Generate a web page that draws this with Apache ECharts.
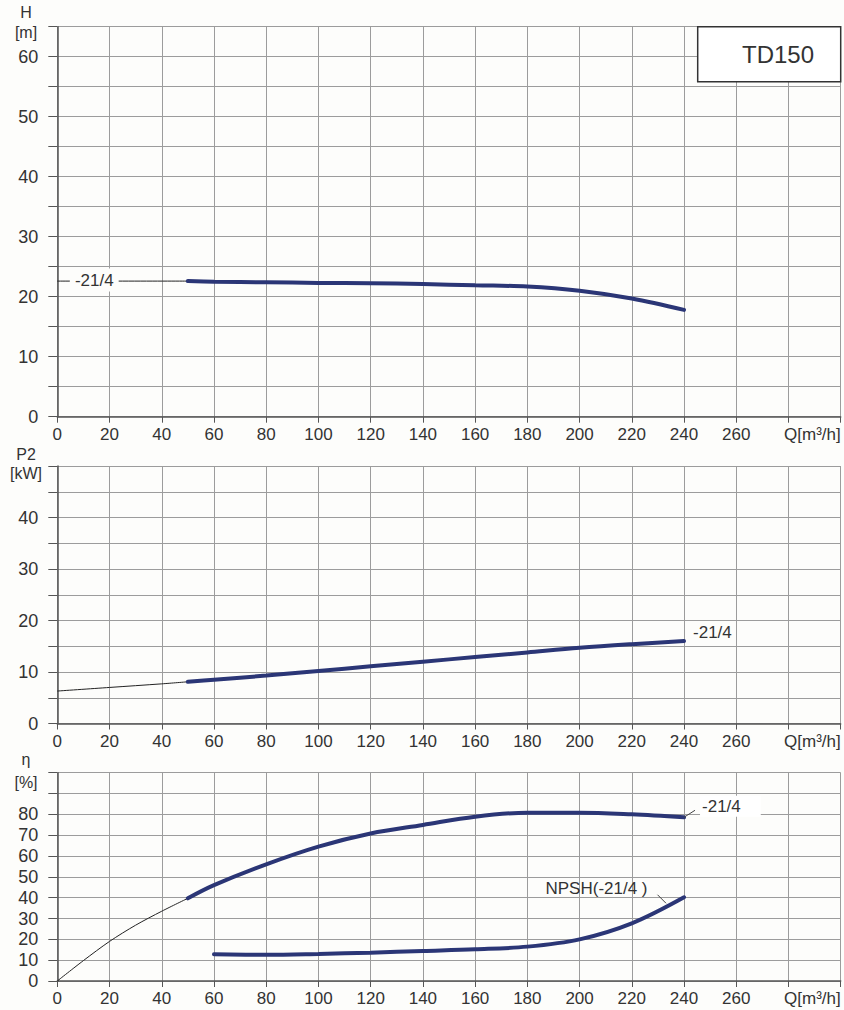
<!DOCTYPE html>
<html><head><meta charset="utf-8">
<script src="https://cdn.jsdelivr.net/npm/echarts@6/dist/echarts.min.js"></script>
<style>html,body{margin:0;padding:0;background:#fdfdfb}#c{width:844px;height:1010px}</style>
</head><body><div id="c"></div>
<script>
// ---------- data ----------
const Q_H = [50, 60, 80, 100, 120, 140, 160, 180, 200, 220, 240];
const H_VAL = [22.6, 22.5, 22.4, 22.3, 22.25, 22.1, 21.9, 21.7, 21.0, 19.7, 17.8];
const Q_H_EXT = [0, 50];
const H_EXT = [22.6, 22.6];

const Q_P = [50, 60, 80, 100, 120, 140, 160, 180, 200, 220, 240];
const P_VAL = [8.1, 8.5, 9.3, 10.2, 11.1, 12.0, 12.9, 13.8, 14.7, 15.4, 16.0];
const Q_P_EXT = [0, 20, 40, 50];
const P_EXT = [6.3, 7.0, 7.7, 8.1];

const Q_ETA = [50, 60, 80, 100, 120, 140, 160, 180, 200, 220, 240];
const ETA_VAL = [39.7, 46, 56, 64.5, 70.8, 74.9, 78.9, 80.8, 80.8, 80.0, 78.6];
const Q_ETA_EXT = [0, 10, 20, 30, 40, 50];
const ETA_EXT = [0, 9.8, 19.0, 26.8, 33.5, 39.7];

const Q_NPSH = [60, 80, 100, 120, 140, 160, 180, 200, 220, 240];
const NPSH_VAL = [12.8, 12.6, 13.0, 13.6, 14.4, 15.2, 16.5, 20.0, 27.7, 40.2];

const X_TICKS = [0, 20, 40, 60, 80, 100, 120, 140, 160, 180, 200, 220, 240, 260];
const X_UNIT = 'Q[m³/h]';
const H_TICKS = [0, 10, 20, 30, 40, 50, 60];
const P_TICKS = [0, 10, 20, 30, 40];
const ETA_TICKS = [0, 10, 20, 30, 40, 50, 60, 70, 80];

const CURVE_LABEL = '-21/4';
const NPSH_LABEL = 'NPSH(-21/4 )';
const MODEL = 'TD150';
const AXIS_TITLES = [['H', '[m]'], ['P2', '[kW]'], ['η', '[%]']];

// ---------- style ----------
const FONT = "'Liberation Sans', Arial, sans-serif";
const NAVY = '#2b3676';
const TXT = '#333';
const GRIDC = '#9c9c9c';
const AXC = '#555';
const BG = '#fdfdfb';

const pairs = (xs, ys) => xs.map((x, i) => [x, ys[i]]);

const grids = [
  { left: 57.3, right: 3.3, top: 26.7, height: 390 },
  { left: 57.3, right: 3.3, top: 466, height: 257.5 },
  { left: 57.3, right: 3.3, top: 772.7, height: 208.3 }
];

function xAxis(i) {
  return {
    type: 'value', gridIndex: i, min: 0, max: 300, interval: 20,
    axisLine: { show: true, lineStyle: { color: AXC, width: 1.5 } },
    axisTick: { show: true, inside: false, length: 6, lineStyle: { color: AXC } },
    splitLine: { show: true, lineStyle: { color: GRIDC, width: 1 } },
    axisLabel: {
      margin: 9, color: TXT, fontSize: 17, fontFamily: FONT,
      alignMaxLabel: 'right',
      formatter: v => X_TICKS.includes(v) ? String(v) : (v === 300 ? X_UNIT : '')
    }
  };
}
function yAxis(i, max, interval, ticks) {
  return {
    type: 'value', gridIndex: i, min: 0, max: max, interval: interval,
    axisLine: { show: true, onZero: false, lineStyle: { color: AXC, width: 1.5 } },
    axisTick: { show: true, inside: false, length: 9, lineStyle: { color: AXC } },
    splitLine: { show: true, lineStyle: { color: GRIDC, width: 1 } },
    axisLabel: {
      margin: 19, color: TXT, fontSize: 18, fontFamily: FONT,
      showMaxLabel: true,
      formatter: v => ticks.includes(v) ? String(v) : ''
    }
  };
}

const thin = (xi, data) => ({
  type: 'line', xAxisIndex: xi, yAxisIndex: xi, data, symbol: 'none', smooth: 0.3,
  lineStyle: { color: '#222', width: 1 }, z: 3, silent: true
});
const thick = (xi, data, extra) => Object.assign({
  type: 'line', xAxisIndex: xi, yAxisIndex: xi, data, symbol: 'none', smooth: 0.35,
  lineStyle: { color: NAVY, width: 4, cap: 'round' }, z: 4, silent: true
}, extra || {});

const chart = echarts.init(document.getElementById('c'), null, { renderer: 'svg' });

const option = {
  animation: false,
  backgroundColor: BG,
  grid: grids,
  xAxis: [xAxis(0), xAxis(1), xAxis(2)],
  yAxis: [yAxis(0, 65, 5, H_TICKS), yAxis(1, 50, 5, P_TICKS), yAxis(2, 100, 10, ETA_TICKS)],
  series: [
    thin(0, pairs(Q_H_EXT, H_EXT)),
    thick(0, pairs(Q_H, H_VAL)),
    thin(1, pairs(Q_P_EXT, P_EXT)),
    thick(1, pairs(Q_P, P_VAL), {
      endLabel: { show: true, formatter: CURVE_LABEL, color: TXT, fontSize: 17, fontFamily: FONT, offset: [1, -9] }
    }),
    thin(2, pairs(Q_ETA_EXT, ETA_EXT)),
    thick(2, pairs(Q_ETA, ETA_VAL), {
      endLabel: { show: true, formatter: CURVE_LABEL, color: TXT, fontSize: 17, fontFamily: FONT,
        offset: [8, -11], backgroundColor: '#ffffff', padding: [2, 20, 2, 2] }
    }),
    thick(2, pairs(Q_NPSH, NPSH_VAL))
  ]
};
chart.setOption(option);

// ---------- annotations positioned from the data ----------
const titleY = [[12, 32], [454, 473], [759, 782]];
const graphics = [];
AXIS_TITLES.forEach((t, i) => {
  graphics.push({ type: 'text', x: 26, y: titleY[i][0], style: { text: t[0], fill: TXT, font: '16px ' + FONT, textAlign: 'center', textVerticalAlign: 'middle' } });
  graphics.push({ type: 'text', x: 26, y: titleY[i][1], style: { text: t[1], fill: TXT, font: '16px ' + FONT, textAlign: 'center', textVerticalAlign: 'middle' } });
});
// model box
graphics.push({ type: 'rect', shape: { x: 697.7, y: 26.7, width: 143, height: 55 }, style: { fill: '#ffffff', stroke: '#333', lineWidth: 1.5 }, z: 100 });
graphics.push({ type: 'text', x: 778, y: 54, style: { text: MODEL, fill: TXT, font: '24px ' + FONT, textAlign: 'center', textVerticalAlign: 'middle' }, z: 101 });

// H label on the thin extension line
const hStart = chart.convertToPixel({ gridIndex: 0 }, [Q_H_EXT[0], H_EXT[0]]);
graphics.push({ type: 'text', x: hStart[0] + 37, y: hStart[1] - 1, z: 100,
  style: { text: CURVE_LABEL, fill: TXT, font: '17px ' + FONT, textAlign: 'center', textVerticalAlign: 'middle',
    backgroundColor: BG, padding: [3, 5, 3, 5] } });

// efficiency leader line
const eEnd = chart.convertToPixel({ gridIndex: 2 }, [Q_ETA[Q_ETA.length - 1], ETA_VAL[ETA_VAL.length - 1]]);
graphics.push({ type: 'line', shape: { x1: eEnd[0], y1: eEnd[1], x2: eEnd[0] + 11, y2: eEnd[1] - 7 }, style: { stroke: '#444', lineWidth: 1 }, z: 100 });

// NPSH label + leader line
const nEnd = chart.convertToPixel({ gridIndex: 2 }, [Q_NPSH[Q_NPSH.length - 1], NPSH_VAL[NPSH_VAL.length - 1]]);
graphics.push({ type: 'line', shape: { x1: nEnd[0] - 26.5, y1: nEnd[1] - 2.5, x2: nEnd[0] - 18, y2: nEnd[1] + 6 }, style: { stroke: '#444', lineWidth: 1 }, z: 100 });
graphics.push({ type: 'text', x: nEnd[0] - 36.5, y: nEnd[1] - 9, z: 100,
  style: { text: NPSH_LABEL, fill: TXT, font: '17px ' + FONT, textAlign: 'right', textVerticalAlign: 'middle' } });

chart.setOption({ graphic: graphics });
</script>
</body></html>
